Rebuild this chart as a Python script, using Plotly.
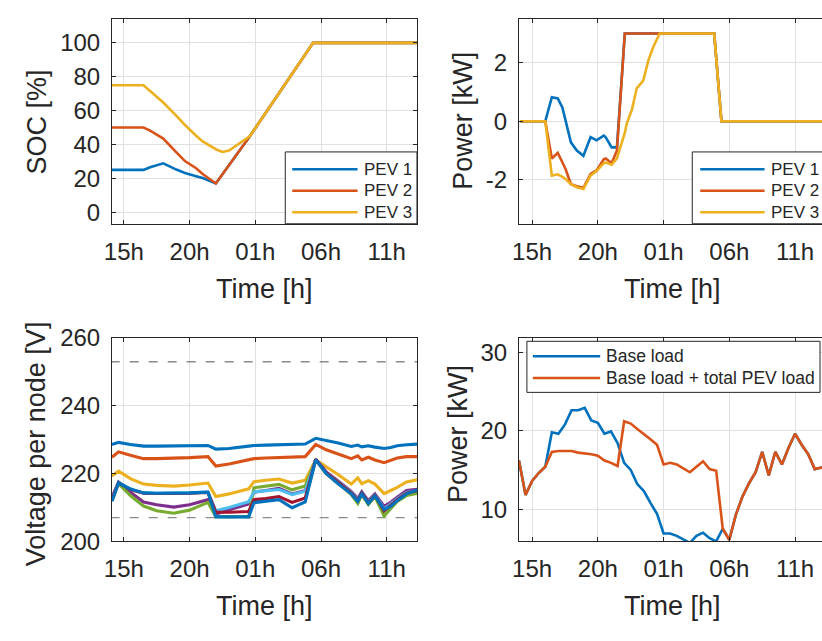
import plotly.graph_objects as go

# ---------------- data ----------------
# time axis in hours (values > 24 are the following day)
tick_vals = [15, 20, 25, 30, 35]
tick_text = ["15h", "20h", "01h", "06h", "11h"]

# y tick labels per panel
soc_ticks = [0, 20, 40, 60, 80, 100]
pev_ticks = [-2, 0, 2]
pev_tick_text = ["-2", "0", "2"]
volt_ticks = [200, 220, 240, 260]
load_ticks = [10, 20, 30]

# state of charge of the three vehicles [%]
t_soc = [14.1, 16.5, 17.0, 18.0, 19.0, 19.65, 20.5, 21.0, 22.0, 22.5, 23.0, 24.0, 24.6, 29.4, 37.4]
soc_pev1 = [25, 25, 26.6, 28.9, 25.2, 23.2, 21.3, 20.2, 17.0, 22.4, 27.8, 38.5, 45.0, 100, 100]
soc_pev2 = [50, 50, 48.2, 43.5, 35.4, 30.2, 26.0, 22.6, 17.0, 22.4, 27.8, 38.5, 45.0, 100, 100]
soc_pev3 = [75, 75, 71.6, 64.8, 56.9, 51.5, 45.2, 41.8, 37.2, 35.6, 36.4, 41.6, 45.0, 100, 100]

# charging (+) / discharging (-) power of the vehicles [kW]
t_pev = [14.1, 16.0, 16.5, 16.95, 17.3, 17.55, 17.95, 18.4, 18.9, 19.45, 19.9, 20.45, 20.6,
         21.05, 21.45, 21.85, 22.05, 22.2, 22.6, 22.95, 23.45, 23.85, 24.2, 24.7, 28.85, 29.4, 37.4]
p_pev1 = [0, 0, 0.82, 0.78, 0.47, 0.0, -0.72, -1.0, -1.18, -0.54, -0.65, -0.49, -0.55,
          -0.89, -0.89, 1.70, 3.0, 3.0, 3.0, 3.0, 3.0, 3.0, 3.0, 3.0, 3.0, 0, 0]
p_pev2 = [0, 0, -1.27, -1.08, -1.4, -1.64, -2.15, -2.22, -2.27, -1.8, -1.68, -1.3, -1.27,
          -1.43, -1.0, 1.67, 3.0, 3.0, 3.0, 3.0, 3.0, 3.0, 3.0, 3.0, 3.0, 0, 0]
p_pev3 = [0, 0, -1.86, -1.81, -1.9, -1.97, -2.15, -2.25, -2.31, -1.85, -1.7, -1.43, -1.41,
          -1.48, -1.27, -0.72, -0.4, -0.08, 0.41, 1.12, 1.39, 2.09, 2.52, 3.0, 3.0, 0, 0]

# node voltages [V]
t_volt = [14.1, 14.6, 15.5, 16.5, 17.5, 18.8, 20.0, 21.4, 22.0, 23.0, 24.5, 24.9, 25.8, 26.8,
          27.8, 28.8, 29.6, 30.4, 31.3, 32.3, 32.8, 33.1, 33.6, 34.1, 34.8, 35.3, 35.8, 36.5, 37.35]
v_node1 = [228.6, 229.2, 228.6, 228.1, 228.1, 228.1, 228.2, 228.3, 227.2, 227.4, 228.1, 228.3, 228.4, 228.5,
           228.6, 228.7, 230.4, 229.8, 229.0, 228.0, 228.4, 227.9, 228.2, 227.8, 227.4, 227.7, 228.2, 228.5, 228.7]
v_node2 = [224.8, 226.4, 225.4, 224.4, 224.4, 224.5, 224.7, 225.0, 222.2, 222.8, 224.1, 224.4, 224.6, 224.8,
           224.8, 225.0, 228.6, 227.0, 225.8, 224.4, 225.2, 224.0, 224.8, 224.0, 223.2, 223.8, 224.6, 225.0, 225.0]
v_node3 = [219.3, 220.7, 218.5, 216.9, 216.5, 216.3, 216.6, 217.2, 213.2, 214.0, 215.5, 217.6, 218.0, 218.4,
           217.2, 218.0, 224.0, 222.0, 219.7, 216.9, 218.7, 217.0, 217.9, 216.9, 214.1, 215.0, 215.9, 217.5, 218.2]
v_node4 = [213.0, 217.5, 214.5, 211.6, 210.8, 210.1, 210.8, 212.3, 208.0, 209.3, 211.0, 214.5, 215.0, 215.6,
           214.0, 215.0, 224.2, 220.5, 217.8, 214.7, 212.6, 214.6, 212.0, 214.0, 210.3, 211.5, 213.0, 215.0, 215.4]
v_node5 = [212.0, 217.0, 213.5, 210.4, 209.0, 208.3, 209.2, 211.5, 207.3, 207.3, 207.3, 215.8, 216.3, 216.8,
           215.2, 216.3, 224.0, 220.0, 217.2, 213.8, 211.2, 213.8, 210.8, 213.2, 207.5, 209.5, 211.8, 213.5, 214.2]
v_node6 = [212.5, 217.4, 215.5, 214.3, 214.2, 214.2, 214.3, 214.5, 209.0, 210.0, 211.7, 214.6, 215.0, 215.3,
           213.8, 214.8, 224.1, 220.2, 217.5, 214.5, 212.2, 214.4, 211.6, 213.8, 209.5, 211.0, 212.6, 214.4, 215.0]
v_node7 = [212.3, 217.3, 215.3, 214.2, 214.1, 214.1, 214.2, 214.4, 208.6, 208.6, 208.8, 212.3, 212.6, 213.2,
           211.5, 212.8, 224.2, 220.2, 217.3, 214.3, 212.0, 214.3, 211.4, 213.6, 209.0, 210.6, 212.3, 214.2, 215.0]
v_node8 = [211.8, 217.2, 215.4, 214.3, 214.2, 214.2, 214.3, 214.5, 207.2, 207.2, 207.2, 211.4, 211.8, 212.3,
           209.9, 211.6, 224.1, 220.0, 217.0, 214.0, 211.8, 214.0, 211.2, 213.4, 209.4, 210.3, 212.0, 214.0, 215.2]
v_limits = [207, 253]

# feeder load [kW]
t_load = [14.0, 14.5, 15.0, 15.5, 16.0, 16.5, 17.0, 17.5, 18.0, 18.5, 19.0, 19.5, 20.0, 20.5, 21.0, 21.5,
          22.0, 22.5, 23.0, 23.5, 24.0, 24.5, 25.0, 25.5, 26.0, 26.5, 27.0, 27.5, 28.0, 28.5, 29.0, 29.5,
          30.0, 30.5, 31.0, 31.5, 32.0, 32.5, 33.0, 33.5, 34.0, 34.5, 35.0, 35.5, 36.0, 36.5, 37.0, 37.5]
base_load = [16.2, 11.8, 13.6, 14.6, 15.4, 19.8, 19.6, 20.8, 22.6, 22.6, 22.9, 21.3, 21.0, 19.6, 19.9, 18.4,
             15.9, 15.0, 13.2, 12.3, 10.8, 9.4, 6.9, 6.9, 6.6, 6.2, 5.7, 6.6, 7.0, 6.3, 5.9, 7.5,
             6.1, 9.3, 11.6, 13.3, 14.7, 17.3, 14.3, 17.3, 15.7, 17.8, 19.6, 18.2, 17.0, 15.1, 15.3, 14.9]
total_load = [16.2, 11.8, 13.6, 14.6, 15.4, 17.3, 17.4, 17.4, 17.4, 17.2, 17.1, 17.0, 16.8, 16.2, 15.9, 15.5,
              21.2, 20.9, 20.2, 19.6, 18.9, 18.2, 15.7, 15.9, 15.7, 15.2, 14.7, 15.4, 16.1, 15.1, 14.9, 7.5,
              6.1, 9.3, 11.6, 13.3, 14.7, 17.3, 14.3, 17.3, 15.7, 17.8, 19.6, 18.2, 17.0, 15.1, 15.3, 14.9]

# ---------------- style ----------------
C = ["#0072BD", "#D95319", "#EDB120", "#7E2F8E", "#77AC30", "#4DBEEE", "#A2142F"]
INK = "#262626"
GRID = "#e1e1e1"
FONT = "Liberation Sans, Arial, sans-serif"
W, H = 822, 641


def px_x(p):
    return p / W


def px_y(p):
    return 1 - p / H


fig = go.Figure()

# top-left: SOC
for y, name, c in [(soc_pev1, "PEV 1", C[0]), (soc_pev2, "PEV 2", C[1]), (soc_pev3, "PEV 3", C[2])]:
    fig.add_trace(go.Scatter(x=t_soc, y=y, name=name, mode="lines", line=dict(color=c, width=2.6),
                             xaxis="x", yaxis="y", showlegend=False))

# top-right: PEV power
for y, name, c in [(p_pev1, "PEV 1", C[0]), (p_pev2, "PEV 2", C[1]), (p_pev3, "PEV 3", C[2])]:
    fig.add_trace(go.Scatter(x=t_pev, y=y, name=name, mode="lines", line=dict(color=c, width=2.6),
                             xaxis="x2", yaxis="y2", showlegend=False))

# bottom-left: node voltages with limits
for v in v_limits:
    fig.add_trace(go.Scatter(x=[t_load[0], t_load[-1]], y=[v, v], mode="lines",
                             line=dict(color="#8a8a8a", width=1.3, dash="9px,10px"),
                             xaxis="x3", yaxis="y3", showlegend=False))
node_series = [v_node1, v_node2, v_node3, v_node4, v_node5, v_node6, v_node7, v_node8]
for i, v in enumerate(node_series):
    fig.add_trace(go.Scatter(x=t_volt, y=v, name=f"Node {i + 1}", mode="lines",
                             line=dict(color=C[i % len(C)], width=3.1),
                             xaxis="x3", yaxis="y3", showlegend=False))

# bottom-right: feeder load
fig.add_trace(go.Scatter(x=t_load, y=base_load, name="Base load", mode="lines",
                         line=dict(color=C[0], width=2.6), xaxis="x4", yaxis="y4", showlegend=False))
fig.add_trace(go.Scatter(x=t_load, y=total_load, name="Base load + total PEV load", mode="lines",
                         line=dict(color=C[1], width=2.6), xaxis="x4", yaxis="y4", showlegend=False))

# ---------------- axes ----------------
left_dom = [px_x(105), px_x(413)]
right_dom = [px_x(516), 1.0]
top_dom = [px_y(219), px_y(5)]
bot_dom = [px_y(550.5), px_y(338.3)]

common = dict(showline=True, linecolor=INK, linewidth=1, ticks="inside", ticklen=4, tickcolor=INK,
              tickwidth=1, showgrid=True, gridcolor=GRID, gridwidth=1, zeroline=False,
              tickfont=dict(family=FONT, size=24, color=INK), ticklabelstandoff=6,
              tickmode="array")

xcommon = dict(common, tickvals=tick_vals, ticktext=tick_text, mirror="allticks")

fig.update_layout(
    xaxis=dict(xcommon, domain=left_dom, range=[14.1, 37.3], anchor="y"),
    yaxis=dict(common, domain=top_dom, range=[-6.8, 114.2], anchor="x", mirror="allticks",
               tickvals=soc_ticks),
    xaxis2=dict(xcommon, domain=right_dom, range=[14.0, 37.05], anchor="y2"),
    yaxis2=dict(common, domain=top_dom, range=[-3.5, 3.5], anchor="x2", mirror=False,
                tickvals=pev_ticks, ticktext=pev_tick_text),
    xaxis3=dict(xcommon, domain=left_dom, range=[14.1, 37.3], anchor="y3"),
    yaxis3=dict(common, domain=bot_dom, range=[200, 260], anchor="x3", mirror="allticks",
                tickvals=volt_ticks),
    xaxis4=dict(xcommon, domain=right_dom, range=[14.0, 37.05], anchor="y4"),
    yaxis4=dict(common, domain=bot_dom, range=[5.9, 31.8], anchor="x4", mirror=False,
                tickvals=load_ticks),
)

# ---------------- legends ----------------
shapes = []
annotations = []


def legend_box(xr, yr, x0, x1, y0, y1):
    shapes.append(dict(type="rect", xref=xr, yref=yr, x0=x0, x1=x1, y0=y0, y1=y1,
                       fillcolor="white", line=dict(color=INK, width=1), layer="above"))


def legend_item(xr, yr, lx0, lx1, tx, y, color, text, size):
    shapes.append(dict(type="line", xref=xr, yref=yr, x0=lx0, x1=lx1, y0=y, y1=y,
                       line=dict(color=color, width=2.6), layer="above"))
    annotations.append(dict(xref=xr, yref=yr, x=tx, y=y, text=text, showarrow=False,
                            xanchor="left", yanchor="middle",
                            font=dict(family=FONT, size=size, color=INK)))


pev_rows = [((219 - 162) / 214, C[0], "PEV 1"),
            ((219 - 184.5) / 214, C[1], "PEV 2"),
            ((219 - 207) / 214, C[2], "PEV 3")]

# top-left legend
legend_box("x domain", "y domain", (280 - 105) / 308, 1.0, 0.0, (219 - 144) / 214)
for yy, c, txt in pev_rows:
    legend_item("x domain", "y domain", (287 - 105) / 308, (353 - 105) / 308, (357 - 105) / 308,
                yy, c, txt, 17)

# top-right legend
legend_box("x2 domain", "y2 domain", (691 - 516) / 306, 1.02, 0.0, (219 - 144) / 214)
for yy, c, txt in pev_rows:
    legend_item("x2 domain", "y2 domain", (699 - 516) / 306, (764 - 516) / 306, (768 - 516) / 306,
                yy, c, txt, 17)

# bottom-right legend
legend_box("x4 domain", "y4 domain", (524 - 516) / 306, (820 - 516) / 306,
           (550.5 - 395) / 212.2, (550.5 - 341.7) / 212.2)
legend_item("x4 domain", "y4 domain", (530 - 516) / 306, (598 - 516) / 306, (602 - 516) / 306,
            (550.5 - 357.3) / 212.2, C[0], "Base load", 17.5)
legend_item("x4 domain", "y4 domain", (530 - 516) / 306, (598 - 516) / 306, (602 - 516) / 306,
            (550.5 - 380) / 212.2, C[1], "Base load + total PEV load", 17.5)

# ---------------- axis titles ----------------
title_font = dict(family=FONT, size=27, color=INK)
for x, y in [(259, 287), (671, 287), (259, 618), (671, 618)]:
    annotations.append(dict(xref="paper", yref="paper", x=px_x(x), y=px_y(y), text="Time [h]",
                            showarrow=False, xanchor="center", yanchor="middle", font=title_font))
for x, y, txt in [(29, 112.5, "SOC [%]"), (460, 112, "Power [kW]"),
                  (28.5, 449, "Voltage per node [V]"), (454, 439, "Power [kW]")]:
    annotations.append(dict(xref="paper", yref="paper", x=px_x(x), y=px_y(y), text=txt,
                            textangle=-90, showarrow=False, xanchor="center", yanchor="middle",
                            font=title_font))

fig.update_layout(
    width=W, height=H, margin=dict(l=0, r=0, t=0, b=0),
    paper_bgcolor="white", plot_bgcolor="white",
    shapes=shapes, annotations=annotations, showlegend=False,
    font=dict(family=FONT, color=INK),
)

fig.write_html("out.html")
